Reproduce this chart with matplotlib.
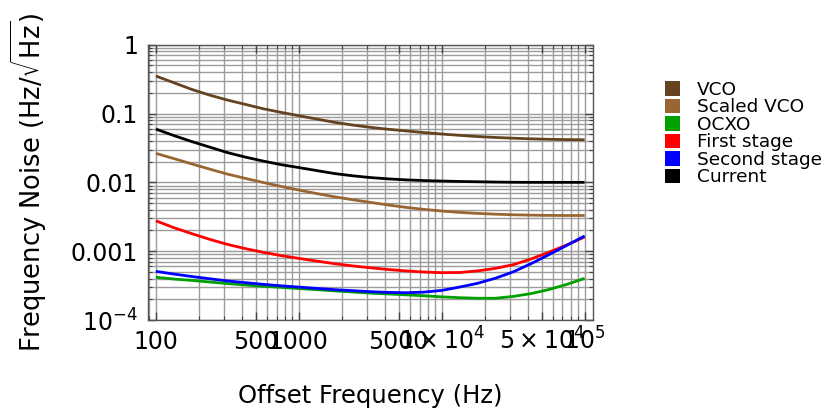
import numpy as np
import matplotlib
matplotlib.use("Agg")
import matplotlib.pyplot as plt
from matplotlib.patches import Patch
from matplotlib.ticker import FixedLocator, NullFormatter

plt.rcParams['font.family'] = ['DejaVu Sans']
plt.rcParams['mathtext.fontset'] = 'dejavusans'

# ---- data (1/8-decade steps) ----
freq = [100, 133.4, 177.8, 237.1, 316.2, 421.7, 562.3, 749.9, 1000, 1333.5, 1778.3, 2371.4,
        3162.3, 4217, 5623.4, 7498.9, 10000, 13335, 17783, 23714, 31623, 42170, 56234, 74989, 100000]
vco = [0.3508, 0.2804, 0.2247, 0.1857, 0.1571, 0.1360, 0.1174, 0.1041, 0.0929, 0.0832, 0.0745, 0.0681,
       0.0630, 0.0591, 0.0559, 0.0529, 0.0504, 0.0482, 0.0463, 0.0449, 0.0438, 0.0429, 0.0422, 0.0418, 0.0416]
scaled_vco = [0.02639, 0.02217, 0.01857, 0.01561, 0.01320, 0.01143, 0.00997, 0.00875, 0.00773, 0.00687,
              0.00617, 0.00560, 0.00512, 0.00469, 0.00433, 0.00405, 0.00383, 0.00366, 0.00354, 0.00345,
              0.00338, 0.00334, 0.00331, 0.00330, 0.00330]
ocxo = [0.000418, 0.000394, 0.000376, 0.000357, 0.000338, 0.000323, 0.000309, 0.000298, 0.000286, 0.000276,
        0.000265, 0.000255, 0.000246, 0.000239, 0.000232, 0.000225, 0.000217, 0.000211, 0.000207, 0.000207,
        0.000220, 0.000242, 0.000277, 0.000329, 0.000402]
first_stage = [0.002766, 0.002196, 0.001802, 0.001489, 0.001256, 0.001091, 0.000964, 0.000863, 0.000786,
               0.000718, 0.000658, 0.000611, 0.000574, 0.000542, 0.000517, 0.000498, 0.000487, 0.000490,
               0.000517, 0.000562, 0.000636, 0.000770, 0.000967, 0.001231, 0.001608]
second_stage = [0.000509, 0.000465, 0.000429, 0.000398, 0.000369, 0.000349, 0.000330, 0.000314, 0.000301,
                0.000288, 0.000276, 0.000267, 0.000258, 0.000252, 0.000249, 0.000254, 0.000269, 0.000301,
                0.000341, 0.000404, 0.000500, 0.000658, 0.000889, 0.001214, 0.001663]
current = [0.0595, 0.0479, 0.0392, 0.0326, 0.0271, 0.0233, 0.0204, 0.0181, 0.0164, 0.01484, 0.01342, 0.01247,
           0.01174, 0.01124, 0.01087, 0.01062, 0.01044, 0.01030, 0.01020, 0.01010, 0.01003, 0.0100, 0.0100,
           0.0100, 0.0100]

series_names = ["VCO", "Scaled VCO", "OCXO", "First stage", "Second stage", "Current"]
series_values = [vco, scaled_vco, ocxo, first_stage, second_stage, current]
series_colors = ["#654321", "#996633", "#00A000", "#FF0000", "#0000FF", "#000000"]

xtick_vals = [100, 500, 1000, 5000, 1e4, 5e4, 1e5]
xtick_labels = ["100", "500", "1000", "5000", r"$1\times10^{4}$", r"$5\times10^{4}$", r"$10^{5}$"]
ytick_vals = [1e-4, 1e-3, 1e-2, 1e-1, 1]
ytick_labels = [r"$10^{-4}$", "0.001", "0.01", "0.1", "1"]

# ---- figure ----
fig = plt.figure(figsize=(8.27, 4.09), dpi=100)
ax = fig.add_axes([0.1784, 0.2176, 0.7170 - 0.1784, 0.8907 - 0.2176])

for name, vals, col in zip(series_names, series_values, series_colors):
    ax.plot(freq, vals, color=col, lw=2.0, solid_capstyle='butt', solid_joinstyle='round', zorder=3)

ax.set_xscale('log')
ax.set_yscale('log')
ax.set_xlim(10 ** (2 - 0.0583), 10 ** (5 + 0.0583))
ax.set_ylim(1e-4, 1)

# grid at every 1..9 x 10^k
minor_x = [m * 10 ** k for k in range(1, 6) for m in range(1, 10)]
minor_y = [m * 10.0 ** k for k in range(-5, 1) for m in range(1, 10)]
xl = ax.get_xlim()
for v in minor_x:
    if xl[0] <= v <= xl[1]:
        ax.axvline(v, color='#9c9c9c', lw=1.0, zorder=1)
for v in minor_y:
    if 1e-4 <= v <= 1:
        ax.axhline(v, color='#9c9c9c', lw=1.0, zorder=1)

ax.xaxis.set_major_locator(FixedLocator(xtick_vals))
ax.set_xticklabels(xtick_labels)
ax.xaxis.set_minor_locator(FixedLocator(minor_x))
ax.xaxis.set_minor_formatter(NullFormatter())
ax.yaxis.set_major_locator(FixedLocator(ytick_vals))
ax.set_yticklabels(ytick_labels)
ax.yaxis.set_minor_locator(FixedLocator(minor_y))
ax.yaxis.set_minor_formatter(NullFormatter())

ax.tick_params(which='both', direction='in', top=True, right=True, color='#444444', labelsize=17)
ax.tick_params(axis='x', which='major', pad=21)
ax.tick_params(axis='y', which='major', pad=7)
ax.tick_params(which='major', length=6, width=1.0)
ax.tick_params(which='minor', length=3, width=0.8)
for lbl in ax.get_xticklabels():
    lbl.set_verticalalignment('baseline')
for sp in ax.spines.values():
    sp.set_color('#555555')
    sp.set_linewidth(1.0)

ax.set_xlabel("Offset Frequency (Hz)", fontsize=17.5)
ax.xaxis.set_label_coords(0.5, -0.234)
ax.set_ylabel(r"Frequency Noise (Hz/$\sqrt{\mathrm{Hz}}$)", fontsize=18.5)
ax.yaxis.set_label_coords(-0.221, 0.5)

handles = [Patch(facecolor=c, edgecolor='none') for c in series_colors]
leg = fig.legend(handles, series_names, loc='upper left', bbox_to_anchor=(0.804, 0.802),
                 frameon=False, fontsize=13.3, handlelength=0.82, handleheight=0.82,
                 handletextpad=0.9, labelspacing=-0.03, borderaxespad=0, borderpad=0)

fig.savefig("out.png", dpi=100)
